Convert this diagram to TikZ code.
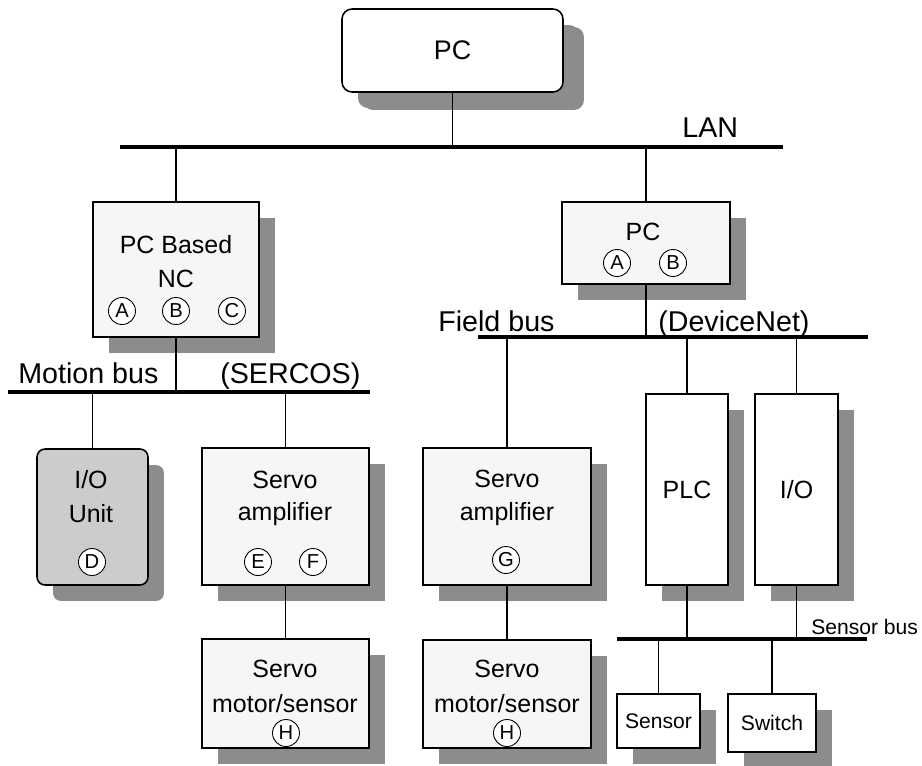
\documentclass[tikz,border=0pt]{standalone}
\usepackage{fontspec}
\setmainfont{Liberation Sans}
\usetikzlibrary{shadows}

\newcommand{\fntTop}{\fontsize{15.3}{18}\selectfont}
\newcommand{\fntBox}{\fontsize{14.2}{17}\selectfont}
\newcommand{\fntBus}{\fontsize{16.3}{19}\selectfont}
\newcommand{\fntSmall}{\fontsize{12}{14}\selectfont}
\newcommand{\fntTag}{\fontsize{11.5}{13}\selectfont}

\tikzset{
  graybox/.style={draw, line width=0.9pt, fill=gray!7, inner sep=0pt, outer sep=0pt,
    drop shadow={shadow xshift=0.32cm, shadow yshift=-0.32cm, fill=black!45, opacity=1}},
  whitebox/.style={graybox, fill=white},
  tag/.style={circle, draw, line width=0.5pt, fill=white, inner sep=0pt, minimum size=0.54cm, font=\fntTag},
  txt/.style={anchor=base, font=\fntBox, inner sep=0pt},
  buslbl/.style={anchor=base west, font=\fntBus, inner sep=0pt},
  bus/.style={line width=1.8pt},
  link/.style={line width=0.6pt}
}

\begin{document}
\begin{tikzpicture}[x=0.02cm, y=-0.02cm]
\useasboundingbox (0,0) rectangle (922,765);

% buses
\coordinate (lanL) at (120,147);
\coordinate (lanR) at (783,147);
\coordinate (motL) at (8,392);
\coordinate (motR) at (370,392);
\coordinate (fldL) at (478,337);
\coordinate (fldR) at (868,337);
\coordinate (senL) at (617,639);
\coordinate (senR) at (867,639);

% top
\node[whitebox, rounded corners=0.2cm, minimum width=4.42cm, minimum height=1.66cm, font=\fntTop,
  drop shadow={shadow xshift=0.42cm, shadow yshift=-0.36cm, fill=black!45, opacity=1}] (pc) at (452.5,50.5) {PC};
\node[buslbl] (lanlbl) at (682,137) {LAN};

% PC based NC
\node[graybox, minimum width=3.32cm, minimum height=2.70cm] (nc) at (176,269.5) {};
\node[txt] (nc1) at (176,253) {PC Based};
\node[txt] (nc2) at (176,287) {NC};
\node[tag] (ncA) at (122,311) {A};
\node[tag] (ncB) at (176,311) {B};
\node[tag] (ncC) at (232,311) {C};

% second PC
\node[graybox, minimum width=3.36cm, minimum height=1.64cm] (pc2) at (646,243) {};
\node[txt] (pc2t) at (643,240) {PC};
\node[tag] (pc2A) at (617,263) {A};
\node[tag] (pc2B) at (673,263) {B};

\node[buslbl] (motlbl) at (18,383) {Motion bus};
\node[buslbl] (sercos) at (220,383) {(SERCOS)};
\node[buslbl] (fldlbl) at (438,331) {Field bus};
\node[buslbl] (devnet) at (658,331) {(DeviceNet)};

% motion bus side
\node[graybox, fill=gray!40, rounded corners=0.16cm, minimum width=2.22cm, minimum height=2.72cm] (iou) at (92.5,517) {};
\node[txt] (iou1) at (91,488) {I/O};
\node[txt] (iou2) at (91,522) {Unit};
\node[tag] (iouD) at (92,562) {D};

\node[graybox, minimum width=3.34cm, minimum height=2.74cm] (amp1) at (285.5,516.5) {};
\node[txt] (amp1a) at (285,488) {Servo};
\node[txt] (amp1b) at (285,520) {amplifier};
\node[tag] (amp1E) at (258,562) {E};
\node[tag] (amp1F) at (313,562) {F};

\node[graybox, minimum width=3.34cm, minimum height=2.18cm] (mot1) at (285.5,693.5) {};
\node[txt] (mot1a) at (285,677) {Servo};
\node[txt] (mot1b) at (285,712) {motor/sensor};
\node[tag] (mot1H) at (286,733) {H};

% field bus side
\node[graybox, minimum width=3.36cm, minimum height=2.74cm] (amp2) at (507,516.5) {};
\node[txt] (amp2a) at (507,487) {Servo};
\node[txt] (amp2b) at (507,520) {amplifier};
\node[tag] (amp2G) at (506,560) {G};

\node[graybox, minimum width=3.36cm, minimum height=2.16cm] (mot2) at (507,694) {};
\node[txt] (mot2a) at (507,677) {Servo};
\node[txt] (mot2b) at (507,712) {motor/sensor};
\node[tag] (mot2H) at (507,733) {H};

\node[whitebox, minimum width=1.64cm, minimum height=3.82cm, font=\fntBox] (plc) at (687,489.5) {PLC};
\node[whitebox, minimum width=1.66cm, minimum height=3.82cm, font=\fntBox] (io) at (796.5,489.5) {I/O};

\node[buslbl, font=\fntSmall] (senlbl) at (811,634) {Sensor bus};
\node[whitebox, minimum width=1.66cm, minimum height=1.08cm, font=\fntSmall] (sensor) at (658.5,721) {Sensor};
\node[whitebox, minimum width=1.76cm, minimum height=1.16cm, font=\fntSmall] (switch) at (772,723) {Switch};

% lines
\draw[bus] (lanL) -- (lanR);
\draw[bus] (motL) -- (motR);
\draw[bus] (fldL) -- (fldR);
\draw[bus] (senL) -- (senR);

\draw[link] (pc.south) -- (pc.south |- lanL);
\draw[link] (nc.north |- lanL) -- (nc.north);
\draw[link] (pc2.north |- lanL) -- (pc2.north);
\draw[link] (nc.south) -- (nc.south |- motL);
\draw[link] (iou.north |- motL) -- (iou.north);
\draw[link] (amp1.north |- motL) -- (amp1.north);
\draw[link] (amp1.south) -- (mot1.north);
\draw[link] (pc2.south) -- (pc2.south |- fldL);
\draw[link] (amp2.north |- fldL) -- (amp2.north);
\draw[link] (plc.north |- fldL) -- (plc.north);
\draw[link] (io.north |- fldL) -- (io.north);
\draw[link] (amp2.south) -- (mot2.north);
\draw[link] (plc.south) -- (plc.south |- senL);
\draw[link] (io.south) -- (io.south |- senL);
\draw[link] (sensor.north |- senL) -- (sensor.north);
\draw[link] (switch.north |- senL) -- (switch.north);
\end{tikzpicture}
\end{document}
